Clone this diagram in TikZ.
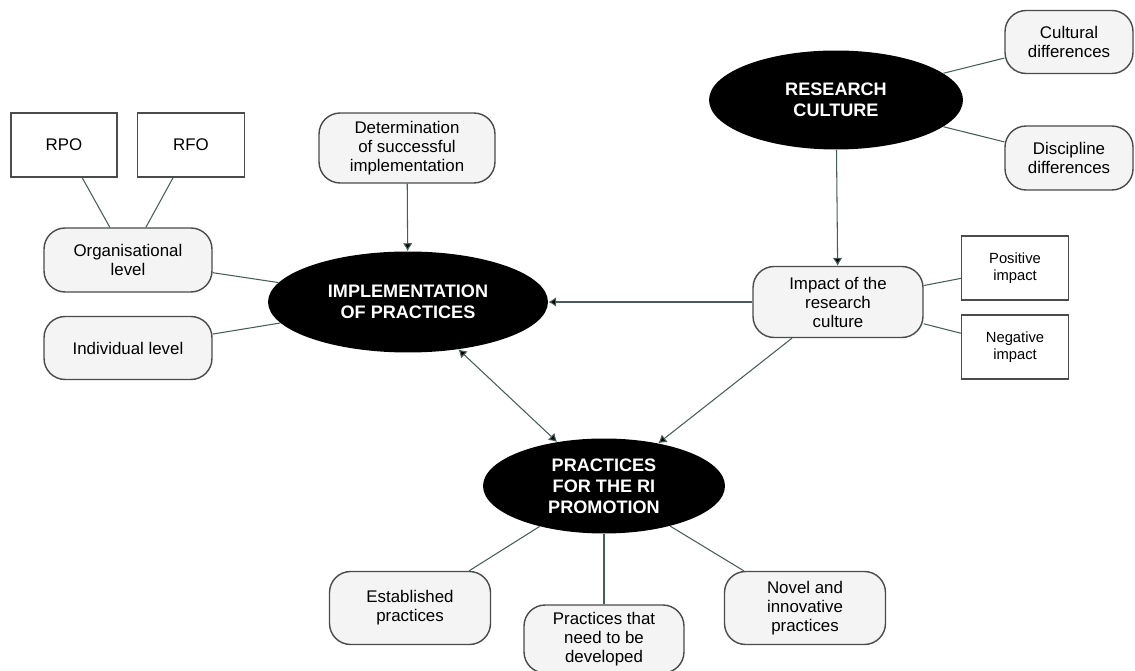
\documentclass[tikz,border=0pt]{standalone}
\usepackage{fontspec}
\setmainfont{Liberation Sans}
\usetikzlibrary{shapes.geometric,arrows.meta}

\definecolor{linkgrey}{RGB}{72,92,90}
\definecolor{boxgrey}{RGB}{75,75,75}
\definecolor{topicfill}{RGB}{244,244,244}

\tikzset{
    hub/.style={ellipse, fill=black, text=white, inner sep=0pt, align=center,
        font=\fontsize{10.3}{12}\selectfont\bfseries},
    topic/.style={draw=boxgrey, line width=0.8pt, fill=topicfill, rounded corners=12pt,
        inner sep=0pt, align=center, font=\fontsize{9.6}{10.8}\selectfont},
    leaf/.style={draw=boxgrey, line width=0.8pt, fill=white, inner sep=0pt, align=center,
        font=\fontsize{9.6}{10.8}\selectfont},
    leafsmall/.style={leaf, font=\fontsize{8.4}{10}\selectfont},
    link/.style={draw=linkgrey, line width=0.6pt},
    arrow/.style={link, -{Latex[length=4.5pt,width=5.5pt]}},
}

\begin{document}
\begin{tikzpicture}[x=0.02cm, y=-0.02cm]
        \useasboundingbox (0,0) rectangle (1135,671);

        % central ellipses
        \node[hub, minimum width=5.6cm, minimum height=2.02cm] (impl) at (408,302) {IMPLEMENTATION\\OF PRACTICES};
        \node[hub, minimum width=5.08cm, minimum height=1.98cm] (culture) at (836,100) {RESEARCH\\CULTURE};
        \node[hub, minimum width=4.84cm, minimum height=1.9cm] (promo) at (604,486) {PRACTICES\\FOR THE RI\\PROMOTION};

        % left side
        \node[leaf, minimum width=2.12cm, minimum height=1.28cm] (rpo) at (64,145) {RPO};
        \node[leaf, minimum width=2.14cm, minimum height=1.28cm] (rfo) at (191,145) {RFO};
        \node[topic, minimum width=3.36cm, minimum height=1.28cm] (orglevel) at (128,260) {Organisational\\level};
        \node[topic, minimum width=3.36cm, minimum height=1.26cm] (indlevel) at (128,348) {Individual level};
        \node[topic, minimum width=3.52cm, minimum height=1.4cm] (success) at (407,148) {Determination\\of successful\\implementation};

        % right side
        \node[topic, minimum width=2.56cm, minimum height=1.26cm] (cultdiff) at (1069,42) {Cultural\\differences};
        \node[topic, minimum width=2.56cm, minimum height=1.28cm] (discdiff) at (1069,158) {Discipline\\differences};
        \node[topic, minimum width=3.4cm, minimum height=1.42cm] (impact) at (838,302) {Impact of the\\research\\culture};
        \node[leafsmall, minimum width=2.14cm, minimum height=1.28cm] (posimp) at (1015,268) {Positive\\impact};
        \node[leafsmall, minimum width=2.14cm, minimum height=1.28cm] (negimp) at (1015,347) {Negative\\impact};

        % bottom
        \node[topic, minimum width=3.22cm, minimum height=1.46cm] (established) at (410,608) {Established\\practices};
        \node[topic, minimum width=3.2cm, minimum height=1.36cm] (develop) at (604,639) {Practices that\\need to be\\developed};
        \node[topic, minimum width=3.22cm, minimum height=1.46cm] (novel) at (805,608) {Novel and\\innovative\\practices};

        \path [link](rpo) edge (orglevel);
        \path [link](rfo) edge (orglevel);
        \path [link](orglevel) edge (impl);
        \path [link](indlevel) edge (impl);
        \path [link](culture) edge (cultdiff);
        \path [link](culture) edge (discdiff);
        \path [link](impact) edge (posimp);
        \path [link](impact) edge (negimp);
        \path [link](promo) edge (established);
        \path [link](promo) edge (develop);
        \path [link](promo) edge (novel);

        \path [arrow](success) edge (impl);
        \path [arrow](culture) edge (impact);
        \path [arrow](impact) edge (impl);
        \path [arrow](impact) edge (promo);
        \path [arrow, {Latex[length=4.5pt,width=5.5pt]}-{Latex[length=4.5pt,width=5.5pt]}](impl) edge (promo);
    \end{tikzpicture}
\end{document}
